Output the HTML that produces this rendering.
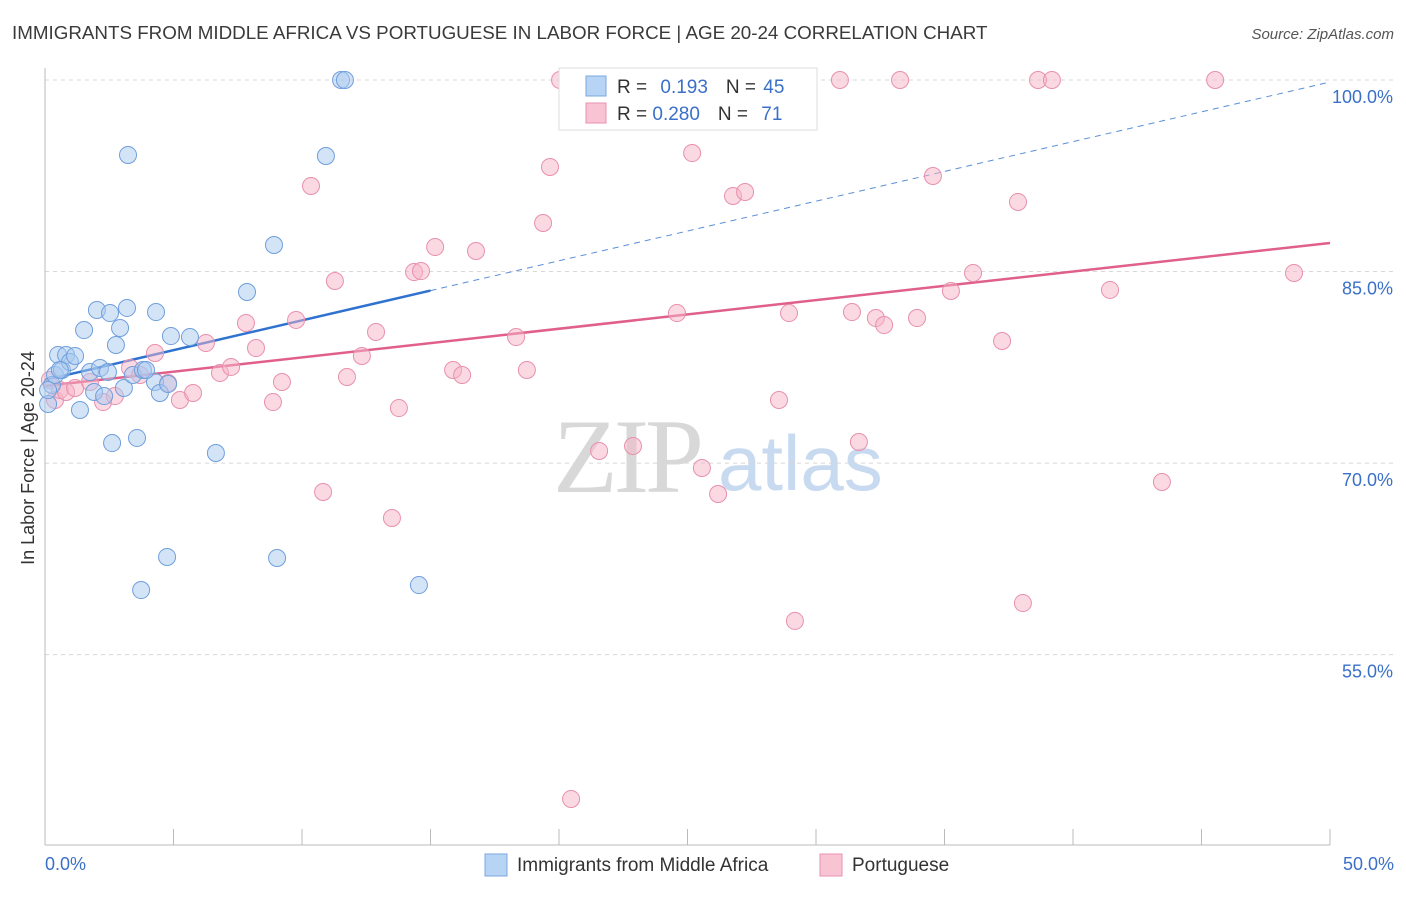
<!DOCTYPE html>
<html><head><meta charset="utf-8"><style>
body{margin:0;background:#fff;font-family:"Liberation Sans",sans-serif;}
</style></head><body>
<svg width="1406" height="892" viewBox="0 0 1406 892" xmlns="http://www.w3.org/2000/svg">
<text x="12" y="39" font-size="18.8" fill="#3a3a3a">IMMIGRANTS FROM MIDDLE AFRICA VS PORTUGUESE IN LABOR FORCE | AGE 20-24 CORRELATION CHART</text>
<text x="1394" y="39" font-size="15" fill="#555" text-anchor="end" font-style="italic">Source: ZipAtlas.com</text>
<g><text x="553" y="492" font-size="106" fill="#d8d8d8" font-family="Liberation Serif,serif" letter-spacing="-4">ZIP</text><text x="718" y="490" font-size="78" fill="#c8daf0">atlas</text></g>
<g id="grid"></g><g id="axes"></g><g id="trends"></g><g id="pts"></g>
<text transform="translate(34,458) rotate(-90)" font-size="18" fill="#333" text-anchor="middle">In Labor Force | Age 20-24</text>
<g>
<rect x="559" y="68" width="258" height="62" fill="#fff" stroke="#ddd"/>
<rect x="586" y="76" width="20" height="20" fill="#b8d4f4" stroke="#7aa8e0"/>
<rect x="586" y="103" width="20" height="20" fill="#f8c4d4" stroke="#e890ae"/>
<text x="617" y="93" font-size="19" fill="#333">R = <tspan fill="#3a70c8" dx="8">0.193</tspan><tspan dx="18" fill="#333">N = </tspan><tspan fill="#3a70c8" dx="2">45</tspan></text>
<text x="617" y="120" font-size="19" fill="#333">R = <tspan fill="#3a70c8" dx="0">0.280</tspan><tspan dx="18" fill="#333">N = </tspan><tspan fill="#3a70c8" dx="8">71</tspan></text>
</g>
<g>
<rect x="485" y="854" width="22" height="22" fill="#b8d4f4" stroke="#7aa8e0"/>
<text x="517" y="871" font-size="19" fill="#333">Immigrants from Middle Africa</text>
<rect x="820" y="854" width="22" height="22" fill="#f8c4d4" stroke="#e890ae"/>
<text x="852" y="871" font-size="19" fill="#333">Portuguese</text>
</g>
</svg>
<script>
const yTicks=[100,85,70,55];
const xLabels=["0.0%","50.0%"];
const blueX=[0.12,0.27,0.39,0.51,0.66,0.82,0.97,1.17,1.36,1.52,1.75,1.91,2.02,2.14,2.30,2.45,2.53,2.61,2.76,2.92,3.07,3.19,3.23,3.42,3.58,3.74,3.81,4.28,4.32,4.47,4.75,4.79,4.90,5.64,6.65,7.86,8.91,9.03,10.93,11.52,11.67,14.55,0.12,0.58,3.93];
const blueY=[74.63,76.12,76.90,78.47,77.29,78.47,77.92,78.39,74.16,80.42,77.13,75.57,81.99,77.45,75.25,77.13,81.75,71.57,79.25,80.58,75.88,82.15,94.13,76.90,71.97,60.06,77.29,76.35,81.83,75.49,62.65,76.19,79.95,79.87,70.79,83.40,87.08,62.57,94.05,100,100,60.45,75.72,77.29,77.29];
const pinkX=[0.19,0.39,0.58,0.82,1.17,1.75,2.26,2.72,3.31,3.70,4.28,4.79,5.25,5.76,6.26,6.81,7.24,7.82,8.21,8.87,9.22,9.77,10.35,10.82,11.28,11.75,12.33,12.88,13.50,13.77,14.36,14.63,15.18,15.88,16.23,16.77,18.33,18.75,19.38,19.65,20.04,20.47,21.56,22.88,24.59,25.18,25.56,26.19,26.77,27.24,28.56,28.95,29.18,30.93,31.40,31.67,32.33,32.65,33.27,33.93,34.55,35.25,36.11,37.24,37.86,38.05,38.64,39.18,41.44,43.46,45.53,48.60];
const pinkY=[76.51,74.94,75.72,75.57,75.88,76.35,74.78,75.25,77.45,76.90,78.62,76.27,74.94,75.49,79.40,77.06,77.53,80.97,79.01,74.78,76.35,81.21,91.70,67.74,84.26,76.74,78.39,80.27,65.70,74.31,84.96,85.04,86.92,77.29,76.90,86.61,79.87,77.29,88.80,93.19,100,43.70,70.95,71.34,81.75,94.28,69.62,67.58,90.92,91.23,74.94,81.75,57.64,100,81.83,71.65,81.36,80.81,100,81.36,92.48,83.48,84.89,79.56,90.45,59.04,100,100,83.56,68.52,100,84.89];
const blueTrend=[76.51,99.84];
const pinkTrend=[76.04,87.24];
const NS="http://www.w3.org/2000/svg";
const X=v=>45+v*25.7;
const Y=v=>80+(100-v)*12.77;
function mk(tag,at,parent){const e=document.createElementNS(NS,tag);for(const k in at)e.setAttribute(k,at[k]);document.getElementById(parent).appendChild(e);return e;}
yTicks.forEach(t=>{
 const l=mk('line',{x1:45,x2:1394,y1:Y(t),y2:Y(t),stroke:'#d8d8d8','stroke-dasharray':'4,4'},'grid');
 
 
 const tx=mk('text',{x:1393,y:Y(t)+23,'font-size':18,fill:'#3a70c8','text-anchor':'end'},'grid');
 tx.textContent=t.toFixed(1)+'%';
 
 
});
const ax=mk('line',{x1:45,x2:1330,y1:845,y2:845,stroke:'#bbb'},'axes');


const ay=mk('line',{x1:45,x2:45,y1:68,y2:845,stroke:'#bbb'},'axes');


for(let i=0;i<=10;i++){const t=mk('line',{x1:X(i*5),x2:X(i*5),y1:829,y2:845,stroke:'#bbb'},'axes');
 
 }
[[0,'start',45],[50,'end',1394]].forEach((d,i)=>{const t=mk('text',{x:d[2],y:870,'font-size':18,fill:'#3a70c8','text-anchor':d[1]},'axes');t.textContent=xLabels[i];
 
 });
function pts(xs,ys,fill,stroke,name){xs.forEach((x,i)=>{const c=mk('circle',{cx:X(x),cy:Y(ys[i]),r:8.5,fill:fill,'fill-opacity':0.5,stroke:stroke,'stroke-width':1},'pts');
 
 });}
pts(pinkX,pinkY,'#f5b3c8','#e890ae','point-portuguese');
pts(blueX,blueY,'#a9c9f0','#6f9fdc','point-middle-africa');
const bAt=x=>blueTrend[0]+(blueTrend[1]-blueTrend[0])*x/50;
const pt=mk('line',{x1:X(0),y1:Y(pinkTrend[0]),x2:X(50),y2:Y(pinkTrend[1]),stroke:'#e0608a','stroke-width':2.5},'trends');


const bs=mk('line',{x1:X(0),y1:Y(bAt(0)),x2:X(15),y2:Y(bAt(15)),stroke:'#2f72d0','stroke-width':2.5},'trends');


const bd=mk('line',{x1:X(15),y1:Y(bAt(15)),x2:X(50),y2:Y(bAt(50)),stroke:'#5a8fd8','stroke-width':1,'stroke-dasharray':'6,5'},'trends');


</script>
</body></html>
